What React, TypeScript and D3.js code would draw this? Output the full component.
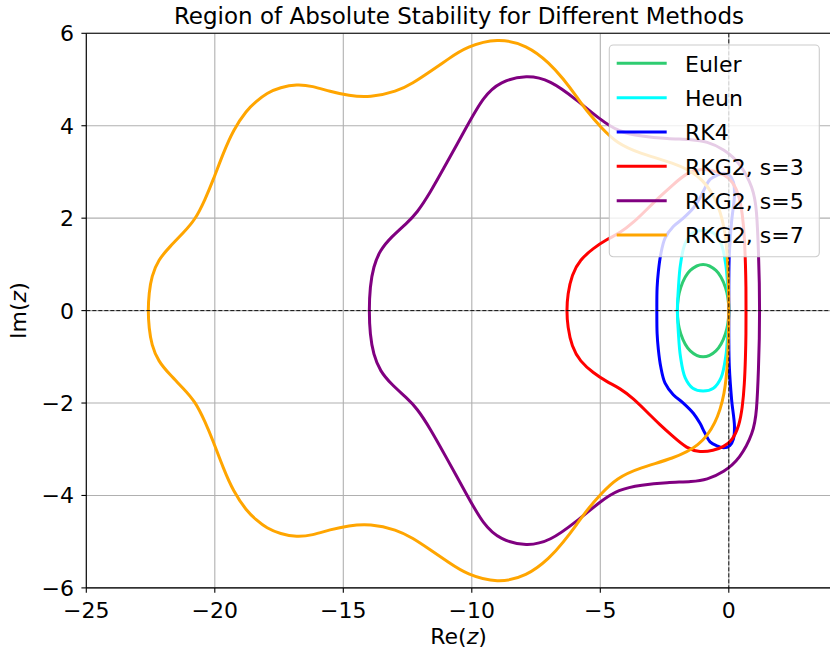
import * as d3 from 'd3';

type Pt = [number, number];

// boundary points (Re, Im), one closed loop per method
const EULER: Pt[] = [
  [0, 0], [-0.13, 0.5], [-0.5, 0.87], [-1, 1], [-1.5, 0.87], [-1.87, 0.5],
  [-2, 0], [-1.87, -0.5], [-1.5, -0.87], [-1, -1], [-0.5, -0.87], [-0.13, -0.5],
];

const HEUN: Pt[] = [
  [0, 0], [-0.04, 0.5], [-0.12, 1.0], [-0.3, 1.45], [-0.6, 1.68], [-1, 1.74],
  [-1.4, 1.68], [-1.7, 1.45], [-1.88, 1.0], [-1.96, 0.5], [-2, 0],
  [-1.96, -0.5], [-1.88, -1.0], [-1.7, -1.45], [-1.4, -1.68], [-1, -1.74],
  [-0.6, -1.68], [-0.3, -1.45], [-0.12, -1.0], [-0.04, -0.5],
];

const RK4: Pt[] = [
  [0, 0], [0, 0.6], [0.02, 1.2], [0.11, 1.93], [0.22, 2.5], [0.18, 2.78],
  [0.04, 2.92], [-0.2, 2.97], [-0.45, 2.93], [-0.73, 2.84], [-0.93, 2.65],
  [-1.12, 2.44], [-1.38, 2.22], [-1.77, 2.0], [-2.16, 1.82], [-2.48, 1.57],
  [-2.65, 1.21], [-2.74, 0.85], [-2.79, 0.49], [-2.8, 0],
  [-2.79, -0.49], [-2.74, -0.85], [-2.65, -1.21], [-2.48, -1.57], [-2.16, -1.82],
  [-1.77, -2.0], [-1.38, -2.22], [-1.12, -2.44], [-0.93, -2.65], [-0.73, -2.84],
  [-0.45, -2.93], [-0.2, -2.97], [0.04, -2.92], [0.18, -2.78], [0.22, -2.5],
  [0.11, -1.93], [0.02, -1.2], [0, -0.6],
];

const RKG2_S3: Pt[] = [
  [0.67, 0], [0.67, 0.5], [0.65, 1.0], [0.61, 1.6], [0.53, 2.1], [0.4, 2.5],
  [0.15, 2.8], [-0.2, 2.95], [-0.6, 3.03], [-1.12, 3.07], [-1.64, 2.98],
  [-2.16, 2.73], [-2.68, 2.47], [-3.19, 2.19], [-3.72, 1.9], [-4.23, 1.68],
  [-4.75, 1.54], [-5.27, 1.35], [-5.79, 1.1], [-6.11, 0.78], [-6.27, 0.35],
  [-6.31, 0],
  [-6.27, -0.35], [-6.11, -0.78], [-5.79, -1.1], [-5.27, -1.35], [-4.75, -1.54],
  [-4.23, -1.68], [-3.72, -1.9], [-3.19, -2.19], [-2.68, -2.47], [-2.16, -2.73],
  [-1.64, -2.98], [-1.12, -3.07], [-0.6, -3.03], [-0.2, -2.95], [0.15, -2.8],
  [0.4, -2.5], [0.53, -2.1], [0.61, -1.6], [0.65, -1.0], [0.67, -0.5],
];

const RKG2_S5: Pt[] = [
  [1.2, 0], [1.19, 0.6], [1.16, 1.2], [1.09, 2.2], [0.95, 2.65], [0.44, 3.2],
  [-0.2, 3.5], [-0.86, 3.66], [-1.4, 3.7], [-2.4, 3.72], [-3.4, 3.77],
  [-4.3, 3.87], [-5.0, 4.13], [-5.92, 4.56], [-6.96, 4.99], [-7.86, 5.1],
  [-8.9, 4.96], [-9.55, 4.63], [-10.2, 3.98], [-10.98, 3.19], [-11.63, 2.54],
  [-12.14, 2.11], [-12.53, 1.89], [-13.12, 1.6], [-13.57, 1.31], [-13.83, 0.95],
  [-13.96, 0.52], [-14.0, 0],
  [-13.96, -0.52], [-13.83, -0.95], [-13.57, -1.31], [-13.12, -1.6], [-12.53, -1.89],
  [-12.14, -2.11], [-11.63, -2.54], [-10.98, -3.19], [-10.2, -3.98], [-9.55, -4.63],
  [-8.9, -4.96], [-7.86, -5.1], [-6.96, -4.99], [-5.92, -4.56], [-5.0, -4.13],
  [-4.3, -3.87], [-3.4, -3.77], [-2.4, -3.72], [-1.4, -3.7], [-0.86, -3.66],
  [-0.2, -3.5], [0.44, -3.2], [0.95, -2.65], [1.09, -2.2], [1.16, -1.2], [1.19, -0.6],
];

const RKG2_S7: Pt[] = [
  [0, 0], [-0.01, 0.5], [-0.04, 1.1], [-0.15, 1.8], [-0.5, 2.45], [-1.15, 2.94],
  [-2.16, 3.2], [-3.46, 3.4], [-4.36, 3.62], [-5.0, 3.98], [-5.5, 4.3],
  [-5.92, 4.63], [-6.45, 5.02], [-6.96, 5.35], [-7.86, 5.75], [-9.0, 5.9],
  [-10.2, 5.71], [-10.9, 5.45], [-11.63, 5.17], [-12.3, 4.92], [-12.92, 4.74],
  [-13.96, 4.61], [-14.8, 4.65], [-15.52, 4.74], [-16.2, 4.86], [-16.81, 4.9],
  [-17.45, 4.83], [-17.98, 4.71], [-18.4, 4.52], [-18.76, 4.34], [-19.28, 3.91],
  [-19.67, 3.41], [-20.06, 2.83], [-20.38, 2.4], [-20.77, 1.96], [-21.23, 1.68],
  [-21.74, 1.39], [-22.2, 1.1], [-22.46, 0.74], [-22.56, 0.38], [-22.6, 0],
  [-22.56, -0.38], [-22.46, -0.74], [-22.2, -1.1], [-21.74, -1.39], [-21.23, -1.68],
  [-20.77, -1.96], [-20.38, -2.4], [-20.06, -2.83], [-19.67, -3.41], [-19.28, -3.91],
  [-18.76, -4.34], [-18.4, -4.52], [-17.98, -4.71], [-17.45, -4.83], [-16.81, -4.9],
  [-16.2, -4.86], [-15.52, -4.74], [-14.8, -4.65], [-13.96, -4.61], [-12.92, -4.74],
  [-12.3, -4.92], [-11.63, -5.17], [-10.9, -5.45], [-10.2, -5.71], [-9.0, -5.9],
  [-7.86, -5.75], [-6.96, -5.35], [-6.45, -5.02], [-5.92, -4.63], [-5.5, -4.3],
  [-5.0, -3.98], [-4.36, -3.62], [-3.46, -3.4], [-2.16, -3.2], [-1.15, -2.94],
  [-0.5, -2.45], [-0.15, -1.8], [-0.04, -1.1], [-0.01, -0.5],
];

const SERIES = [
  { name: 'Euler', color: '#2ecc71', pts: EULER, smooth: false },
  { name: 'Heun', color: '#00ffff', pts: HEUN, smooth: false },
  { name: 'RK4', color: '#0000ff', pts: RK4, smooth: false },
  { name: 'RKG2, s=3', color: '#ff0000', pts: RKG2_S3, smooth: true },
  { name: 'RKG2, s=5', color: '#800080', pts: RKG2_S5, smooth: true },
  { name: 'RKG2, s=7', color: '#ffa500', pts: RKG2_S7, smooth: true },
];

const X_TICKS = [-25, -20, -15, -10, -5, 0];
const Y_TICKS = [-6, -4, -2, 0, 2, 4, 6];

const W = 830;
const H = 651;
const FONT = 'DejaVu Sans, sans-serif';

export default function App() {
  const x = d3.scaleLinear().domain([-25, 4]).range([86.3, 831.6]);
  const y = d3.scaleLinear().domain([-6, 6]).range([587.9, 33.3]);
  const [x0, x1] = x.range();
  const [y0, y1] = y.range();

  const through = d3
    .line<Pt>()
    .x((d) => x(d[0]))
    .y((d) => y(d[1]))
    .curve(d3.curveCatmullRomClosed.alpha(0.5));
  const smoothLine = d3
    .line<Pt>()
    .x((d) => x(d[0]))
    .y((d) => y(d[1]))
    .curve(d3.curveBasisClosed);

  const fmt = (v: number) => (v < 0 ? `\u2212${Math.abs(v)}` : `${v}`);

  return (
    <svg
      width={W}
      height={H}
      style={{ position: 'fixed', left: 0, top: 0, background: '#fff' }}
      fontFamily={FONT}
    >
      <defs>
        <clipPath id="plot">
          <rect x={x0} y={y1} width={x1 - x0} height={y0 - y1} />
        </clipPath>
      </defs>

      {/* grid */}
      <g stroke="#b0b0b0" strokeWidth={1.1}>
        {X_TICKS.map((t) => (
          <line key={'gx' + t} x1={x(t)} x2={x(t)} y1={y1} y2={y0} />
        ))}
        {Y_TICKS.map((t) => (
          <line key={'gy' + t} x1={x0} x2={x1} y1={y(t)} y2={y(t)} />
        ))}
      </g>

      <g clipPath="url(#plot)" fill="none" strokeWidth={3} strokeLinejoin="round">
        {SERIES.map((s) => (
          <path
            key={s.name}
            d={(s.smooth ? smoothLine(s.pts) : through(s.pts)) ?? ''}
            stroke={s.color}
          />
        ))}
      </g>

      {/* zero lines */}
      <g stroke="#000" strokeWidth={0.9} strokeDasharray="4,2" clipPath="url(#plot)">
        <line x1={x0} x2={x1} y1={y(0)} y2={y(0)} />
        <line x1={x(0)} x2={x(0)} y1={y1} y2={y0} />
      </g>

      {/* spines */}
      <g stroke="#000" strokeWidth={1.1} fill="none">
        <line x1={x0} x2={x0} y1={y1} y2={y0} />
        <line x1={x0} x2={x1} y1={y0} y2={y0} />
        <line x1={x0} x2={x1} y1={y1} y2={y1} />
        <line x1={x1} x2={x1} y1={y1} y2={y0} />
      </g>

      {/* ticks */}
      <g stroke="#000" strokeWidth={1.1}>
        {X_TICKS.map((t) => (
          <line key={'tx' + t} x1={x(t)} x2={x(t)} y1={y0} y2={y0 + 4.9} />
        ))}
        {Y_TICKS.map((t) => (
          <line key={'ty' + t} x1={x0 - 4.9} x2={x0} y1={y(t)} y2={y(t)} />
        ))}
      </g>
      <g fontSize={22} fill="#000">
        {X_TICKS.map((t) => (
          <text key={'lx' + t} x={x(t)} y={617.5} textAnchor="middle">
            {fmt(t)}
          </text>
        ))}
        {Y_TICKS.map((t) => (
          <text key={'ly' + t} x={74} y={y(t) + 8} textAnchor="end">
            {fmt(t)}
          </text>
        ))}
      </g>

      {/* labels */}
      <text x={(x0 + x1) / 2} y={24} textAnchor="middle" fontSize={23}>
        Region of Absolute Stability for Different Methods
      </text>
      <text x={458.5} y={644} textAnchor="middle" fontSize={22}>
        Re(<tspan fontStyle="italic">z</tspan>)
      </text>
      <text
        transform={`translate(26, ${y(0)}) rotate(-90)`}
        textAnchor="middle"
        fontSize={22}
      >
        Im(<tspan fontStyle="italic">z</tspan>)
      </text>

      {/* legend */}
      <g>
        <rect
          x={609.3}
          y={45}
          width={210}
          height={211.7}
          rx={4}
          fill="#fff"
          fillOpacity={0.8}
          stroke="#cccccc"
          strokeWidth={1.1}
        />
        {SERIES.map((s, i) => {
          const ry = 63.3 + i * 34.35;
          return (
            <g key={'lg' + s.name}>
              <line x1={616.7} x2={666.7} y1={ry} y2={ry} stroke={s.color} strokeWidth={3} />
              <text x={685} y={ry + 8.3} fontSize={22}>
                {s.name}
              </text>
            </g>
          );
        })}
      </g>
    </svg>
  );
}
